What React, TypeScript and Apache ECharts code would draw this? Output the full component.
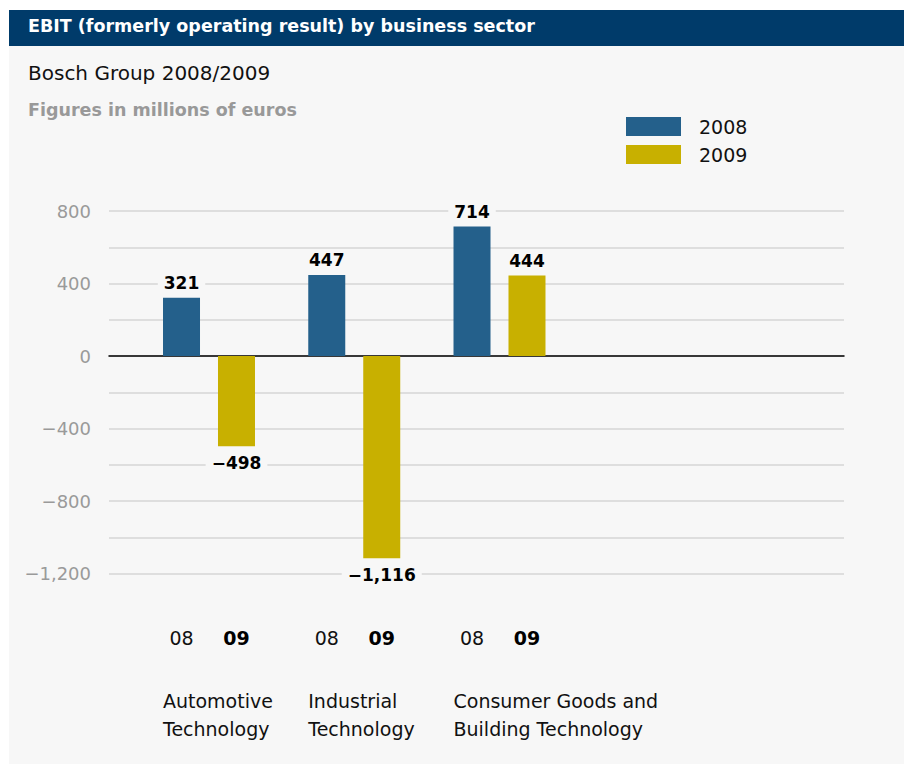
import React, { useEffect, useRef } from "react";
import * as echarts from "echarts";

const sectors = [
  "Automotive\nTechnology",
  "Industrial\nTechnology",
  "Consumer Goods and\nBuilding Technology",
];
const seriesNames = ["2008", "2009"];
const yearLabels = ["08", "09"];
const values2008 = [321, 447, 714];
const values2009 = [-498, -1116, 444];
const yMin = -1200;
const yMax = 800;
const yStep = 200;
const yLabelStep = 400;

const FONT = "'DejaVu Sans', 'Noto Sans', sans-serif";
const BLUE = "#24608b";
const GOLD = "#c8b000";
const PANEL = "#f7f7f7";

const fmt = (v: number) => {
  const s = Math.abs(v).toLocaleString("en-US");
  return v < 0 ? "\u2212" + s : s;
};

const mkData = (arr: number[]) =>
  arr.map((v) => ({
    value: v,
    label: {
      position: v < 0 ? "bottom" : "top",
      distance: v < 0 ? 6 : 4,
    },
  }));

export default function App() {
  const ref = useRef<HTMLDivElement>(null);
  useEffect(() => {
    document.body.style.margin = "0";
    const chart = echarts.init(ref.current!, null, { renderer: "svg" });
    const barGridLeft = 136.375;
    const barGridWidth = 435.75;
    const gridTop = 211;
    const gridBottom = 764 - 573.5;
    const hiddenY = (idx: number) => ({
      type: "value",
      gridIndex: idx,
      min: yMin,
      max: yMax,
      interval: yStep,
      show: false,
    });
    const labelStyle = {
      show: true,
      fontFamily: FONT,
      fontSize: 17,
      fontWeight: "bold",
      color: "#000",
      backgroundColor: PANEL,
      padding: [2, 6],
      formatter: (p: any) => fmt(p.value),
    };
    chart.setOption({
      animation: false,
      backgroundColor: "#ffffff",
      textStyle: { fontFamily: FONT },
      graphic: {
        elements: [
          {
            type: "rect",
            z: -10,
            shape: { x: 9, y: 10, width: 895, height: 754 },
            style: { fill: PANEL },
          },
          {
            type: "rect",
            z: -9,
            shape: { x: 9, y: 10, width: 895, height: 36 },
            style: { fill: "#003b6a" },
          },
        ],
      },
      title: [
        {
          text: "EBIT (formerly operating result) by business sector",
          left: 28,
          top: 17,
          padding: 0,
          textStyle: {
            fontFamily: FONT,
            fontSize: 17.5,
            fontWeight: "bold",
            color: "#ffffff",
          },
        },
        {
          text: "Bosch Group 2008/2009",
          left: 28,
          top: 63,
          padding: 0,
          textStyle: {
            fontFamily: FONT,
            fontSize: 20,
            fontWeight: "normal",
            color: "#111111",
          },
        },
        {
          text: "Figures in millions of euros",
          left: 28,
          top: 101,
          padding: 0,
          textStyle: {
            fontFamily: FONT,
            fontSize: 17.5,
            fontWeight: "bold",
            color: "#999999",
          },
        },
      ],
      legend: {
        orient: "vertical",
        left: 626,
        top: 117,
        padding: 0,
        itemWidth: 55,
        itemHeight: 19,
        itemGap: 9,
        icon: "rect",
        data: seriesNames,
        textStyle: {
          fontFamily: FONT,
          fontSize: 19,
          color: "#111111",
          padding: [0, 0, 0, 13],
        },
      },
      grid: [
        { left: 109, right: 60, top: gridTop, bottom: gridBottom },
        {
          left: barGridLeft,
          width: barGridWidth,
          top: gridTop,
          bottom: gridBottom,
        },
        {
          left: barGridLeft - 46,
          width: barGridWidth,
          top: gridTop,
          bottom: gridBottom,
        },
      ],
      xAxis: [
        {
          type: "category",
          gridIndex: 0,
          data: [""],
          axisLine: {
            show: true,
            onZero: true,
            lineStyle: { color: "#000000", width: 1.5 },
          },
          axisTick: { show: false },
          axisLabel: { show: false },
          splitLine: { show: false },
        },
        {
          type: "category",
          gridIndex: 1,
          data: sectors,
          axisLine: { show: false },
          axisTick: { show: false },
          splitLine: { show: false },
          axisLabel: {
            interval: 0,
            margin: 52,
            formatter: () => `{a|${yearLabels[0]}}{b|${yearLabels[1]}}`,
            rich: {
              a: {
                width: 55,
                align: "center",
                fontFamily: FONT,
                fontSize: 19,
                color: "#111111",
                lineHeight: 24,
              },
              b: {
                width: 55,
                align: "center",
                fontFamily: FONT,
                fontSize: 19,
                fontWeight: "bold",
                color: "#000000",
                lineHeight: 24,
              },
            },
          },
        },
        {
          type: "category",
          gridIndex: 2,
          data: sectors,
          axisLine: { show: false },
          axisTick: { show: false },
          splitLine: { show: false },
          axisLabel: {
            interval: 0,
            margin: 113,
            align: "left",
            fontFamily: FONT,
            fontSize: 19,
            lineHeight: 28,
            color: "#111111",
          },
        },
      ],
      yAxis: [
        {
          type: "value",
          gridIndex: 0,
          min: yMin,
          max: yMax,
          interval: yStep,
          axisLine: { show: false },
          axisTick: { show: false },
          axisLabel: {
            margin: 18,
            fontFamily: FONT,
            fontSize: 18,
            color: "#9a9a9a",
            formatter: (v: number) => (v % yLabelStep === 0 ? fmt(v) : ""),
          },
          splitLine: { lineStyle: { color: "#d6d6d6", width: 1.5 } },
        },
        hiddenY(1),
        hiddenY(2),
      ],
      series: [
        {
          name: seriesNames[0],
          type: "bar",
          xAxisIndex: 1,
          yAxisIndex: 1,
          barWidth: 37,
          barGap: "48.6%",
          itemStyle: { color: BLUE },
          label: labelStyle,
          data: mkData(values2008),
        },
        {
          name: seriesNames[1],
          type: "bar",
          xAxisIndex: 1,
          yAxisIndex: 1,
          barWidth: 37,
          barGap: "48.6%",
          itemStyle: { color: GOLD },
          label: labelStyle,
          data: mkData(values2009),
        },
      ],
    });
    return () => chart.dispose();
  }, []);
  return <div ref={ref} style={{ width: 904, height: 764 }} />;
}
